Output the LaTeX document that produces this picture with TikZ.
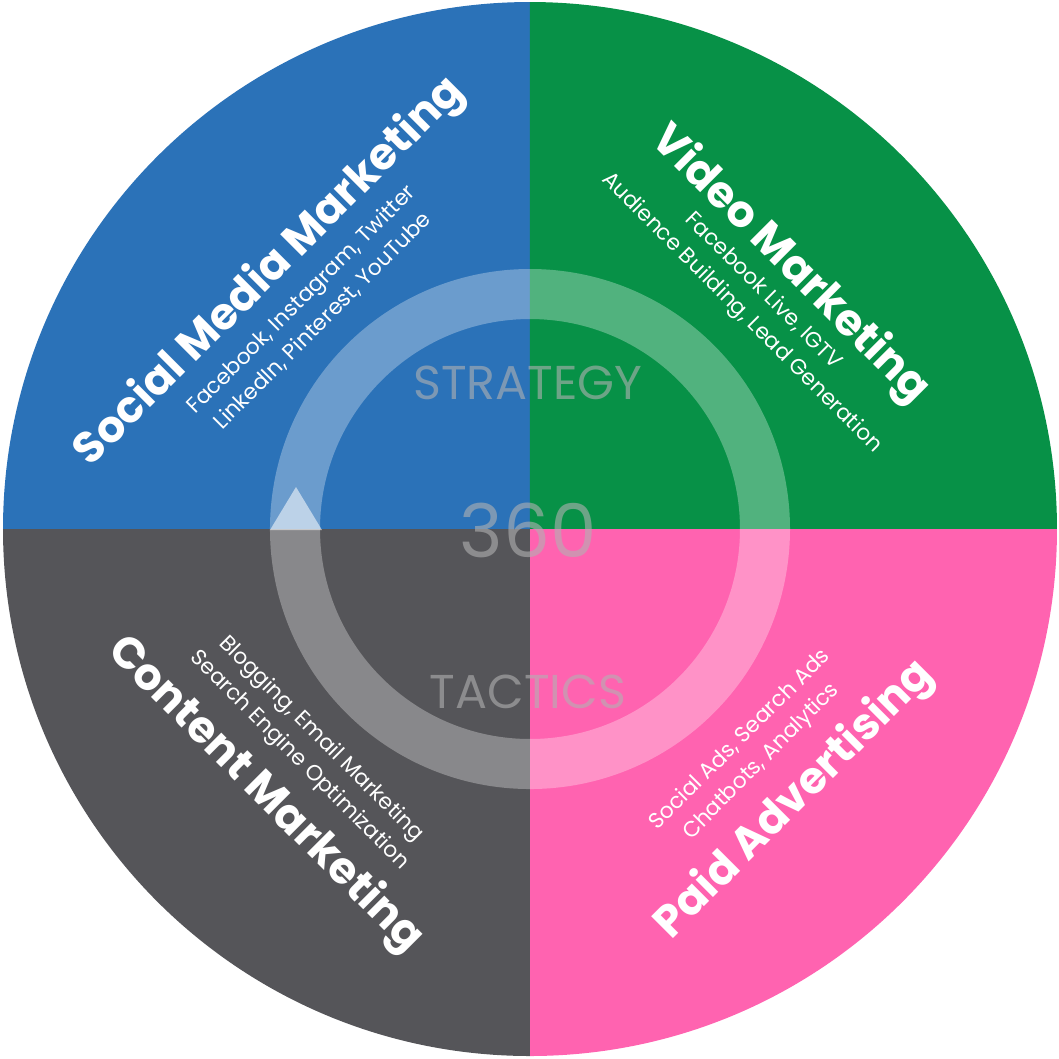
\documentclass[tikz,border=0pt]{standalone}
\usepackage{fontspec}
\setmainfont{Poppins}
\definecolor{smblue}{HTML}{2B72B8}
\definecolor{vmgreen}{HTML}{079147}
\definecolor{cmgrey}{HTML}{555559}
\definecolor{papink}{HTML}{FF63B0}
\tikzset{
	title/.style = {text=white, font=\fontsize{12.5}{15}\selectfont\bfseries},
	sub/.style = {text=white, align=center, font=\fontsize{6.2}{8.6}\selectfont},
	core/.style = {text=gray!60, opacity=0.6},
}
\begin{document}
\begin{tikzpicture}[x=0.01cm, y=-0.01cm]
		\useasboundingbox (0,0) rectangle (1059,1059);
		% quadrants
		\fill[smblue]  (530,529) -- (3,529) arc[start angle=180, end angle=270, radius=527] -- cycle;
		\fill[vmgreen] (530,529) -- (530,2) arc[start angle=-90, end angle=0, radius=527] -- cycle;
		\fill[papink]  (530,529) -- (1057,529) arc[start angle=0, end angle=90, radius=527] -- cycle;
		\fill[cmgrey]  (530,529) -- (530,1056) arc[start angle=90, end angle=180, radius=527] -- cycle;
		% ring
		\draw[white, opacity=0.3, line width=0.5cm] (530,529) circle[radius=235];
		\fill[white, opacity=0.55] (270,530) -- (296,487) -- (322,530) -- cycle;
		% centre
		\node[core, font=\fontsize{13.5}{16}\selectfont] (strategy) at (528,383) {STRATEGY};
		\node[core, font=\fontsize{21}{25}\selectfont] (c360) at (528,530) {360};
		\node[core, font=\fontsize{13.5}{16}\selectfont] (tactics) at (528,692) {TACTICS};
		% quadrant texts
		\node[title, rotate=45] (social) at (270,272) {Social Media Marketing};
		\node[sub, rotate=45] (socialsub) at (312,310) {Facebook, Instagram, Twitter\\LinkedIn, Pinterest, YouTube};
		\node[title, rotate=-45] (video) at (790,265) {Video Marketing};
		\node[sub, rotate=-45] (videosub) at (752,302) {Facebook Live, IGTV\\Audience Building, Lead Generation};
		\node[title, rotate=-45] (content) at (265,795) {Content Marketing};
		\node[sub, rotate=-45] (contentsub) at (310,750) {Blogging, Email Marketing\\Search Engine Optimization};
		\node[title, rotate=45] (paid) at (795,800) {Paid Advertising};
		\node[sub, rotate=45] (paidsub) at (751,751) {Social Ads, Search Ads\\Chatbots, Analytics};
\end{tikzpicture}
\end{document}
